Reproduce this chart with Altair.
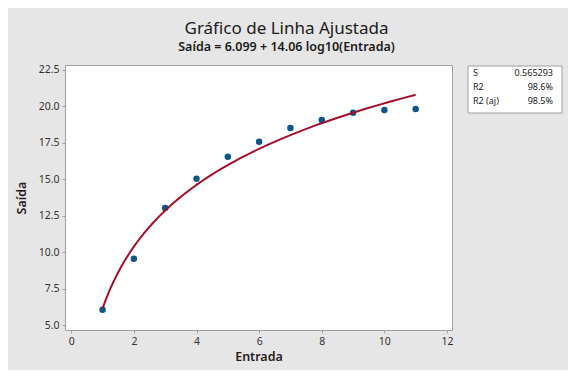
import altair as alt
import pandas as pd

entrada = [1, 2, 3, 4, 5, 6, 7, 8, 9, 10, 11]
saida = [6.05, 9.55, 13.03, 15.04, 16.55, 17.58, 18.52, 19.07, 19.57, 19.75, 19.82]

stat_names = ["S", "R2", "R2 (aj)"]
stat_values = ["0.565293", "98.6%", "98.5%"]

x_ticks = [0, 2, 4, 6, 8, 10, 12]
y_ticks = [5.0, 7.5, 10.0, 12.5, 15.0, 17.5, 20.0, 22.5]

df = pd.DataFrame({"Entrada": entrada, "Saida": saida})
stats = pd.DataFrame({"names": ["\n".join(stat_names)], "values": ["\n".join(stat_values)]})

W, H = 387, 265
FONT = "Noto Sans"

xs = alt.Scale(domain=[-0.2, 12.16], nice=False, zero=False)
ys = alt.Scale(domain=[4.66, 22.84], nice=False, zero=False)

xax = alt.Axis(values=x_ticks, title="Entrada", grid=False, format="d", labelOverlap=False)
yax = alt.Axis(values=y_ticks, title="Saída", grid=False, format=".1f", labelOverlap=False)

base = alt.Chart(df)

points = base.mark_circle(size=42, color="#0d5687", opacity=1).encode(
    x=alt.X("Entrada:Q", scale=xs, axis=xax),
    y=alt.Y("Saida:Q", scale=ys, axis=yax),
)

line = base.transform_regression(
    "Entrada", "Saida", method="log", extent=[1, 11]
).mark_line(color="#a30f2b", strokeWidth=2, clip=True).encode(
    x=alt.X("Entrada:Q", scale=xs, axis=xax),
    y=alt.Y("Saida:Q", scale=ys, axis=yax),
)

box = alt.Chart(stats).mark_rect(
    fill="white", stroke="#a0a0a0", strokeWidth=1
).encode(
    x=alt.value(403), x2=alt.value(497), y=alt.value(1), y2=alt.value(48)
)

names = alt.Chart(stats).mark_text(
    align="left", baseline="top", font=FONT, fontSize=9, color="#222222",
    lineBreak="\n", lineHeight=14,
).encode(x=alt.value(408), y=alt.value(4), text="names:N")

vals = alt.Chart(stats).mark_text(
    align="right", baseline="top", font=FONT, fontSize=9, color="#222222",
    lineBreak="\n", lineHeight=14,
).encode(x=alt.value(488), y=alt.value(4), text="values:N")

chart = alt.layer(points, line, box, names, vals).properties(
    width=W,
    height=H,
    autosize=alt.AutoSizeParams(type="none"),
    padding={"left": 57, "top": 57, "right": 116, "bottom": 40},
    background="#e6e6e6",
    title=alt.TitleParams(
        "Gráfico de Linha Ajustada",
        subtitle="Saída = 6.099 + 14.06 log10(Entrada)",
        anchor="middle",
        dx=28,
        font=FONT,
        fontSize=17,
        fontWeight="normal",
        color="#1a1a1a",
        subtitleFont=FONT,
        subtitleFontSize=12.5,
        subtitleFontWeight=600,
        subtitleColor="#1a1a1a",
        subtitlePadding=3,
        offset=10,
    ),
).configure_view(
    fill="white", stroke="#a0a0a0", strokeWidth=1
).configure_axis(
    labelFont=FONT,
    labelFontSize=10.5,
    labelColor="#333333",
    titleFont=FONT,
    titleFontSize=12.5,
    titleFontWeight=600,
    titleColor="#2a1a1a",
    domainColor="#a0a0a0",
    tickColor="#a0a0a0",
    tickSize=3,
    labelPadding=3,
    labelOverlap=False,
).configure_axisX(
    titlePadding=4, domain=False
).configure_axisY(
    titlePadding=10, domain=False
)

chart.save("out.html", embed_options={"renderer": "svg", "actions": False})
